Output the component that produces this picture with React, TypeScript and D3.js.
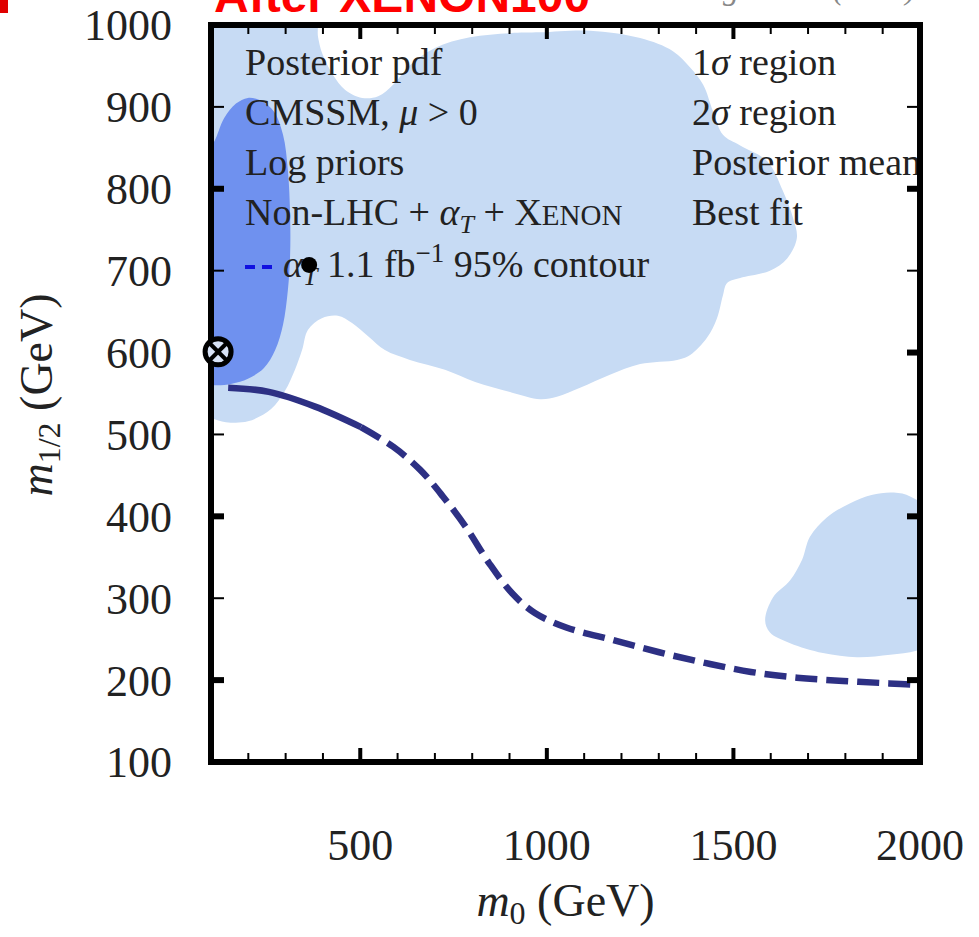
import React from 'react';
import * as d3 from 'd3';

type Pt = [number, number];

// m0, m1/2 in GeV
const sigma2Main: Pt[] = [
  [50, 1040], [375, 1040], [387, 985], [400, 963], [427, 939], [459, 921], [505, 911],
  [548, 913], [588, 927], [633, 951], [700, 972], [794, 985], [901, 990], [982, 991],
  [1116, 993], [1250, 984], [1338, 968], [1384, 948], [1419, 927], [1445, 895],
  [1472, 866], [1518, 853], [1590, 834], [1633, 797], [1660, 764], [1670, 740],
  [1644, 715], [1598, 700], [1518, 691], [1483, 685], [1472, 670], [1456, 642],
  [1429, 618], [1384, 597], [1349, 591], [1250, 586], [1169, 573], [1089, 557],
  [1027, 546], [982, 543], [907, 551], [808, 564], [727, 579], [633, 591], [566, 603],
  [521, 620], [478, 636], [440, 645], [397, 642], [360, 628], [344, 603], [325, 579],
  [298, 553], [261, 531], [199, 516], [140, 515], [100, 520], [50, 530],
];

const sigma2Side: Pt[] = [
  [1813, 416], [1870, 426], [1930, 429], [1975, 424], [2040, 400], [2040, 245],
  [1990, 236], [1920, 231], [1831, 228], [1740, 233], [1652, 245], [1598, 258],
  [1585, 273], [1606, 301], [1652, 322], [1684, 347], [1705, 375], [1751, 399],
];

const sigma1: Pt[] = [
  [167, 904], [199, 911], [237, 907], [269, 894], [293, 866], [306, 823], [312, 768],
  [312, 719], [306, 676], [293, 634], [272, 603], [242, 581], [199, 568], [156, 562],
  [111, 560], [71, 563], [65, 725], [71, 835], [108, 857], [135, 886],
];

const alphaTContour: Pt[] = [
  [146, 557], [255, 552], [379, 534], [502, 509], [588, 485], [660, 457], [722, 424],
  [783, 387], [845, 343], [907, 306], [968, 282], [1054, 264], [1177, 249], [1301, 234],
  [1424, 221], [1547, 210], [1670, 203], [1794, 199], [1917, 196], [2000, 194],
];

const posteriorMean: Pt = [363, 707];
const bestFit: Pt = [119, 601];

const yTickLabels = [100, 200, 300, 400, 500, 600, 700, 800, 900, 1000];
const yMajorTicks = [200, 400, 600, 800];
const yMinorTicks = [300, 500, 700, 900];
const xTickLabels = [500, 1000, 1500, 2000];
const xMajorTicks = [500, 1000, 1500];
const xMinorTicks = [200, 300, 400, 600, 700, 800, 900, 1100, 1200, 1300, 1400, 1600, 1700, 1800, 1900];

const legendLeft = ['Posterior pdf', 'CMSSM', 'Log priors', 'Non-LHC', 'contour'];
const legendRight = ['1', '2', 'Posterior mean', 'Best fit'];

const LIGHT = '#c7dbf4';
const DARK = '#6f91ef';
const SERIF = '"Liberation Serif", "DejaVu Serif", serif';

const App: React.FC = () => {
  const left = 211, right = 920, top = 25, bottom = 762;
  const x = d3.scaleLinear().domain([100, 2000]).range([left, right]);
  const y = d3.scaleLinear().domain([100, 1000]).range([bottom, top]);

  const area = d3.line<Pt>().x(d => x(d[0])).y(d => y(d[1])).curve(d3.curveCatmullRomClosed.alpha(0.5));
  const open = d3.line<Pt>().x(d => x(d[0])).y(d => y(d[1])).curve(d3.curveCatmullRom.alpha(0.5));

  const solidPart = alphaTContour.filter(d => d[0] <= 510);
  const dashedPart = alphaTContour.filter(d => d[0] >= 502);

  const lx = 245, rx = 692;
  const rows = [75, 125, 175, 225, 277];

  return (
    <svg width={979} height={937} style={{ position: 'absolute', left: 0, top: 0, background: '#fff' }}>
      <defs>
        <clipPath id="plot">
          <rect x={left} y={top} width={right - left} height={bottom - top} />
        </clipPath>
      </defs>

      {/* cut-off slide header */}
      <rect x={0} y={0} width={8} height={13} fill="#e00000" />
      <text x={214} y={12} fill="#ff0000" fontFamily='"Liberation Sans", Arial, sans-serif'
        fontWeight="bold" fontSize={48}>After XENON100</text>
      <text x={916} y={-1} textAnchor="end" fill="#888" fontFamily={SERIF} fontStyle="italic"
        fontSize={32}>Strege et al. (2011)</text>

      <g clipPath="url(#plot)">
        <path d={area(sigma2Main) ?? ''} fill={LIGHT} />
        <path d={area(sigma2Side) ?? ''} fill={LIGHT} />
        <path d={area(sigma1) ?? ''} fill={DARK} />
      </g>

      {/* legend */}
      <g fontFamily={SERIF} fontSize={38} fill="#222">
        <text x={lx} y={rows[0]}>{legendLeft[0]}</text>
        <text x={lx} y={rows[1]}>CMSSM, <tspan fontStyle="italic">μ</tspan> &gt; 0</text>
        <text x={lx} y={rows[2]}>{legendLeft[2]}</text>
        <text x={lx} y={rows[3]}>Non-LHC + <tspan fontStyle="italic">α</tspan>
          <tspan fontStyle="italic" fontSize={26} dy={8}>T</tspan>
          <tspan dy={-8}> + X</tspan><tspan fontSize={29}>ENON</tspan></text>
        <line x1={lx} x2={lx + 28} y1={rows[4] - 10} y2={rows[4] - 10} stroke="#1010e0"
          strokeWidth={4} strokeDasharray="10 7" />
        <text x={lx + 38} y={rows[4]}><tspan fontStyle="italic">α</tspan>
          <tspan fontStyle="italic" fontSize={26} dy={8}>T</tspan>
          <tspan dy={-8}> 1.1 fb</tspan>
          <tspan fontSize={27} dy={-15}>−1</tspan>
          <tspan dy={15}> 95% contour</tspan></text>

        <text x={rx} y={rows[0]}>1<tspan fontStyle="italic">σ</tspan> region</text>
        <text x={rx} y={rows[1]}>2<tspan fontStyle="italic">σ</tspan> region</text>
        <text x={rx} y={rows[2]}>{legendRight[2]}</text>
        <text x={rx} y={rows[3]}>{legendRight[3]}</text>
      </g>

      <g clipPath="url(#plot)">
        <path d={open(solidPart) ?? ''} fill="none" stroke="#2d3084" strokeWidth={6.5} />
        <path d={open(dashedPart) ?? ''} fill="none" stroke="#2d3084" strokeWidth={6.5}
          strokeDasharray="22 9" />
      </g>

      <circle cx={x(posteriorMean[0])} cy={y(posteriorMean[1])} r={8} fill="#000" />

      {/* frame and ticks */}
      <g stroke="#000">
        {yMinorTicks.map(v => (
          <g key={`ym${v}`}>
            <line x1={left} x2={left + 13} y1={y(v)} y2={y(v)} strokeWidth={2} />
            <line x1={right - 13} x2={right} y1={y(v)} y2={y(v)} strokeWidth={2} />
          </g>
        ))}
        {yMajorTicks.map(v => (
          <g key={`yM${v}`}>
            <line x1={left} x2={left + 13} y1={y(v)} y2={y(v)} strokeWidth={6} />
            <line x1={right - 13} x2={right} y1={y(v)} y2={y(v)} strokeWidth={6} />
          </g>
        ))}
        {xMinorTicks.map(v => (
          <g key={`xm${v}`}>
            <line x1={x(v)} x2={x(v)} y1={top} y2={top + 9} strokeWidth={2} />
            <line x1={x(v)} x2={x(v)} y1={bottom - 9} y2={bottom} strokeWidth={2} />
          </g>
        ))}
        {xMajorTicks.map(v => (
          <g key={`xM${v}`}>
            <line x1={x(v)} x2={x(v)} y1={top} y2={top + 14} strokeWidth={4} />
            <line x1={x(v)} x2={x(v)} y1={bottom - 14} y2={bottom} strokeWidth={4} />
          </g>
        ))}
        <rect x={left} y={top} width={right - left} height={bottom - top} fill="none" strokeWidth={6} />
      </g>

      {/* best fit */}
      <g transform={`translate(${x(bestFit[0])},${y(bestFit[1])})`}>
        <circle r={13} fill="#d8e2f6" stroke="#000" strokeWidth={5} />
        <line x1={-9} y1={-9} x2={9} y2={9} stroke="#000" strokeWidth={4} />
        <line x1={-9} y1={9} x2={9} y2={-9} stroke="#000" strokeWidth={4} />
      </g>

      {/* tick labels */}
      <g fontFamily={SERIF} fontSize={44} fill="#222">
        {yTickLabels.map(v => (
          <text key={`yl${v}`} x={172} y={y(v)} dy="0.35em" textAnchor="end">{v}</text>
        ))}
        {xTickLabels.map(v => (
          <text key={`xl${v}`} x={x(v)} y={860} textAnchor="middle">{v}</text>
        ))}
      </g>

      {/* axis titles */}
      <text x={(left + right) / 2} y={916} textAnchor="middle" fontFamily={SERIF} fontSize={46} fill="#222">
        <tspan fontStyle="italic">m</tspan>
        <tspan fontSize={32} dy={8}>0</tspan>
        <tspan dy={-8}> (GeV)</tspan>
      </text>
      <text transform="translate(52,395) rotate(-90)" textAnchor="middle" fontFamily={SERIF} fontSize={46} fill="#222">
        <tspan fontStyle="italic">m</tspan>
        <tspan fontSize={32} dy={8}>1/2</tspan>
        <tspan dy={-8}> (GeV)</tspan>
      </text>
    </svg>
  );
};

export default App;
